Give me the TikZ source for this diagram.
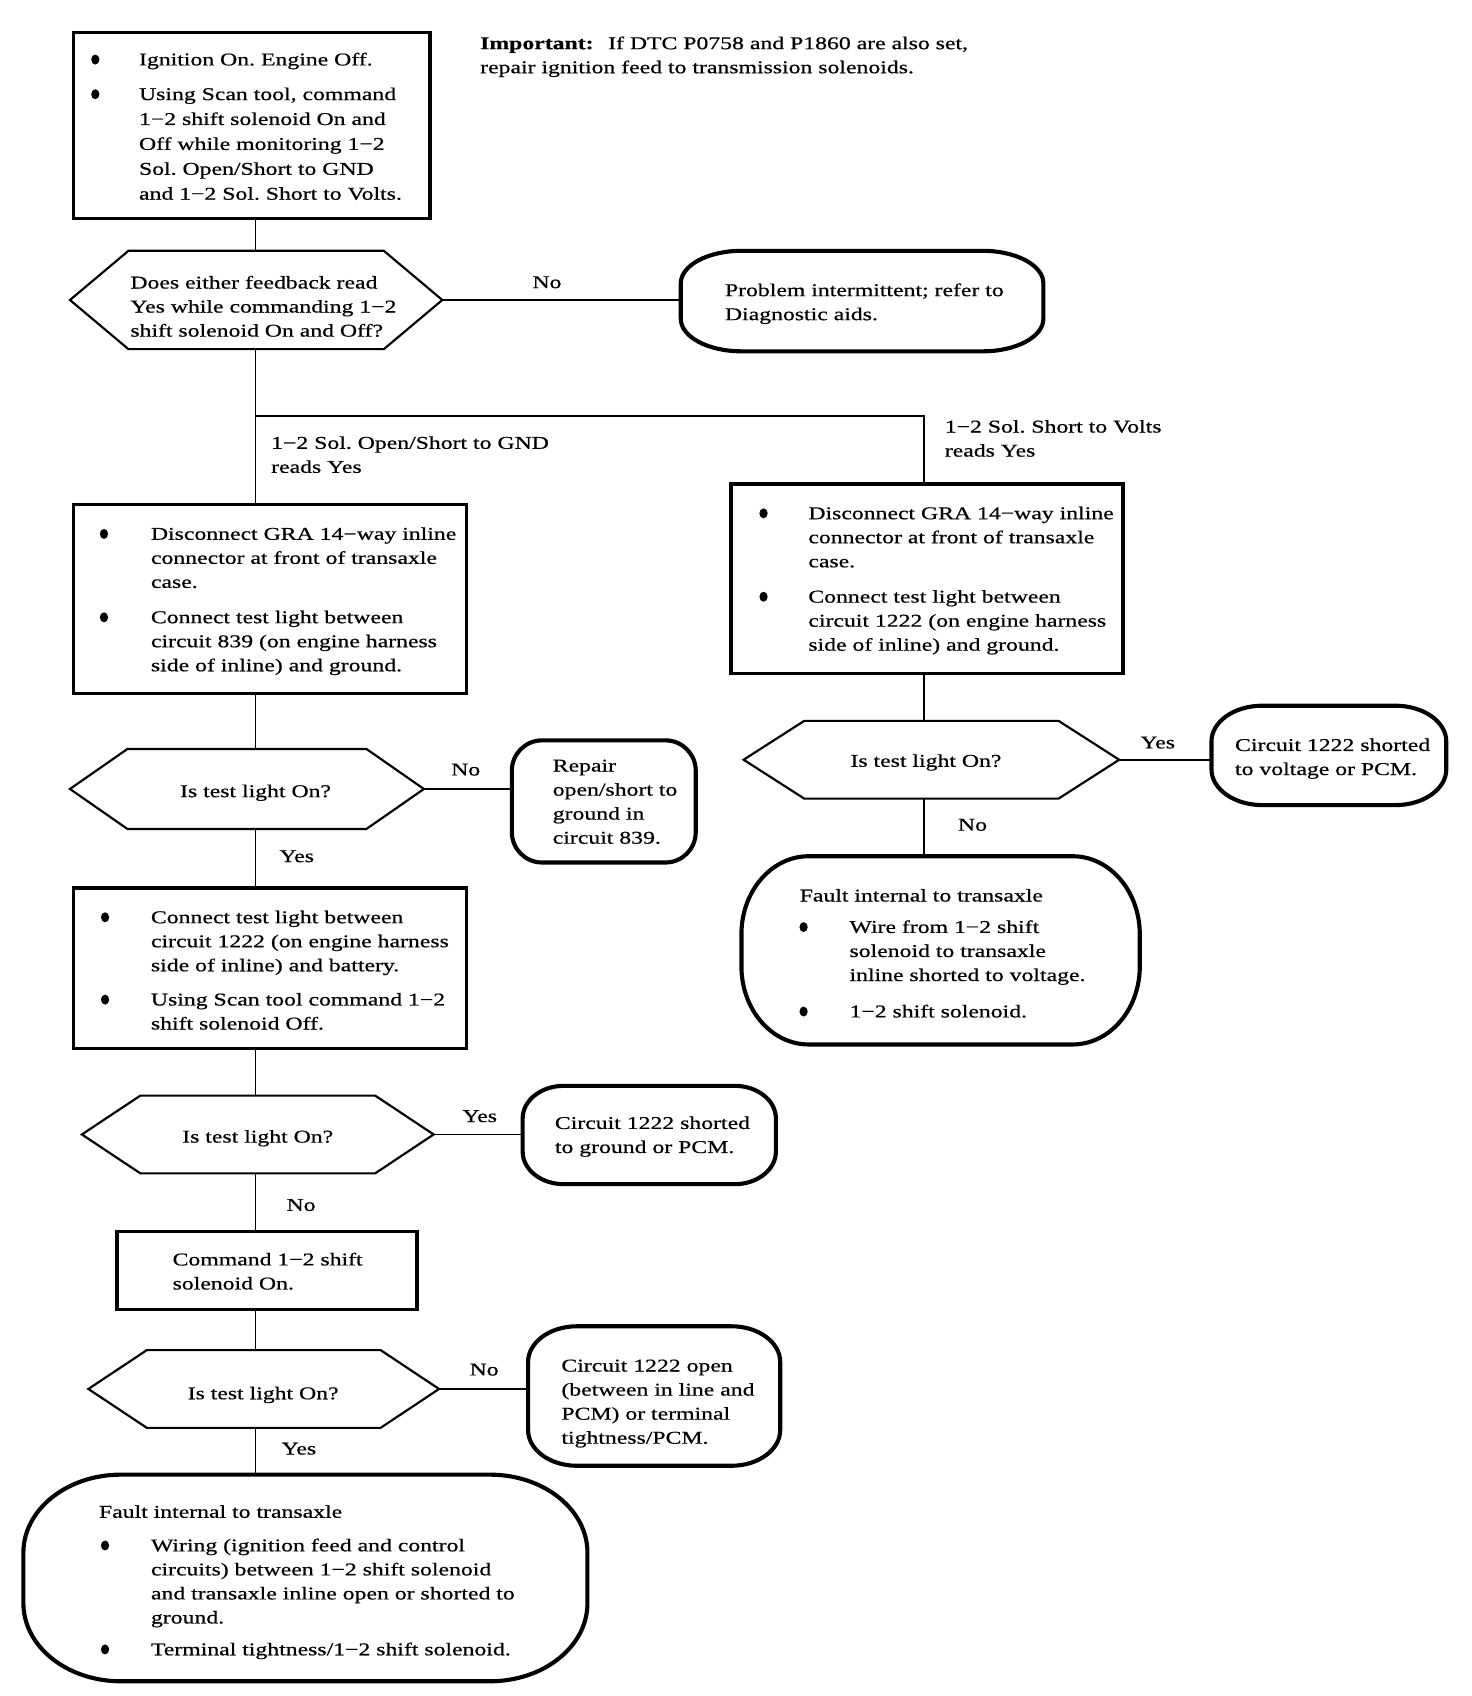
\documentclass[tikz,border=0pt]{standalone}
\usepackage{fontspec}
\setmainfont{Liberation Serif}[FakeStretch=1.32,FakeBold=0.6]
\usetikzlibrary{fit}
\newcommand{\myfs}{\fontsize{8.3pt}{11.1pt}\selectfont\frenchspacing}
\tikzset{
 boxst/.style={draw, line width=1.5pt, inner sep=0pt},
 hexst/.style={draw, line width=1pt, line join=miter},
 termst/.style={draw, line width=1.9pt},
 conn/.style={line width=0.8pt},
 txt/.style={anchor=north west, inner sep=0pt, align=left, font=\myfs},
 lab/.style={anchor=base, inner sep=0pt, font=\myfs},
}
\newcommand{\txnode}[4]{\node[txt] (#1) at (#2,#3-11) {\rule{0pt}{8pt}#4};}
\newcommand{\labnode}[4]{\node[lab] (#1) at (#2,#3+5) {#4};}
\newcommand{\bul}[2]{\fill (#1,#2) ellipse [x radius=1.9pt, y radius=2.3pt];}
\newcommand{\boxnode}[5]{\node[boxst, fit={(#2,#3)(#4,#5)}] (#1) {};}
\newcommand{\hexnode}[6]{%
  \node[fit={(#2,#3)(#4,#5)}, inner sep=0pt] (#1) {};
  \draw[hexst] (#1.west) -- ([xshift=#6]#1.north west) -- ([xshift=-#6]#1.north east) -- (#1.east) -- ([xshift=-#6]#1.south east) -- ([xshift=#6]#1.south west) -- cycle;}
\newcommand{\termnode}[7]{%
  \node[fit={(#2,#3)(#4,#5)}, inner sep=0pt] (#1) {};
  \draw[termst] ([xshift=#6]#1.north west) -- ([xshift=-#6]#1.north east)
    arc[start angle=90, end angle=0, x radius=#6, y radius=#7]
    -- ([yshift=#7]#1.south east)
    arc[start angle=0, end angle=-90, x radius=#6, y radius=#7]
    -- ([xshift=#6]#1.south west)
    arc[start angle=270, end angle=180, x radius=#6, y radius=#7]
    -- ([yshift=-#7]#1.north west)
    arc[start angle=180, end angle=90, x radius=#6, y radius=#7] -- cycle;}
\begin{document}
\begin{tikzpicture}[x=0.5pt,y=-0.5pt]
\useasboundingbox (0,0) rectangle (1359,1566);
\coordinate (sp) at (236,0);
\coordinate (br) at (236,384);
\coordinate (brr) at (853,384);

% Box A
\boxnode{A}{68}{30}{397}{202}
\bul{88}{55}\bul{88}{87}
\txnode{a1}{128}{55}{Ignition On. Engine Off.}
\txnode{a2}{128}{87}{Using Scan tool, command\\[0.4pt]1−2 shift solenoid On and\\[0.4pt]Off while monitoring 1−2\\[0.4pt]Sol. Open/Short to GND\\[0.4pt]and 1−2 Sol. Short to Volts.}

% Important
\txnode{imp}{443}{40}{\textbf{Important:}\hspace{4pt} If DTC P0758 and P1860 are also set,\\repair ignition feed to transmission solenoids.}

% D1
\hexnode{D1}{65}{232}{408}{322}{27pt}
\txnode{d1t}{120}{261}{Does either feedback read\\Yes while commanding 1−2\\shift solenoid On and Off?}

% T1
\termnode{T1}{629}{232}{963}{324}{28pt}{15pt}
\txnode{t1t}{669}{268}{Problem intermittent; refer to\\Diagnostic aids.}
\labnode{l1}{505}{261}{No}

% labels of branch
\txnode{lg}{250}{409}{1−2 Sol. Open/Short to GND\\reads Yes}
\txnode{lv}{872}{394}{1−2 Sol. Short to Volts\\reads Yes}

% Box B
\boxnode{B}{68}{466}{431}{640}
\bul{96}{493}\bul{96}{570}
\txnode{b1}{139}{493}{Disconnect GRA 14−way inline\\connector at front of transaxle\\case.}
\txnode{b2}{139}{570}{Connect test light between\\circuit 839 (on engine harness\\side of inline) and ground.}

% Box C
\boxnode{C}{675}{447}{1037}{622}
\bul{705}{474}\bul{705}{551}
\txnode{c1}{746}{474}{Disconnect GRA 14−way inline\\connector at front of transaxle\\case.}
\txnode{c2}{746}{551}{Connect test light between\\circuit 1222 (on engine harness\\side of inline) and ground.}

% D2
\hexnode{D2}{65}{692}{391}{765}{26.5pt}
\labnode{d2t}{236}{731}{Is test light On?}
\labnode{l2}{430}{711}{No}
\termnode{T2}{473}{684}{642}{796}{14pt}{14pt}
\txnode{t2t}{510}{707}{Repair\\open/short to\\ground in\\circuit 839.}
\labnode{l3}{274}{791}{Yes}

% D3
\hexnode{D3}{687}{666}{1033}{737}{28pt}
\labnode{d3t}{855}{703}{Is test light On?}
\labnode{l4}{1069}{686}{Yes}
\termnode{T3}{1119}{652}{1335}{743}{23.5pt}{16.5pt}
\txnode{t3t}{1140}{688}{Circuit 1222 shorted\\to voltage or PCM.}
\labnode{l5}{898}{762}{No}

% T4
\termnode{T4}{685}{791}{1052}{964}{31pt}{36pt}
\txnode{t4a}{738}{827}{Fault internal to transaxle}
\bul{742}{856}\bul{742}{934}
\txnode{t4b}{784}{856}{Wire from 1−2 shift\\solenoid to transaxle\\inline shorted to voltage.}
\txnode{t4c}{784}{934}{1−2 shift solenoid.}

% Box D
\boxnode{D}{68}{820}{431}{968}
\bul{97}{847}\bul{97}{923}
\txnode{dd1}{139}{847}{Connect test light between\\circuit 1222 (on engine harness\\side of inline) and battery.}
\txnode{dd2}{139}{923}{Using Scan tool command 1−2\\shift solenoid Off.}

% D4
\hexnode{D4}{76}{1012}{400}{1083}{27pt}
\labnode{d4t}{238}{1050}{Is test light On?}
\labnode{l6}{443}{1031}{Yes}
\termnode{T5}{483}{1003}{716}{1093}{19pt}{15pt}
\txnode{t5t}{512}{1037}{Circuit 1222 shorted\\to ground or PCM.}
\labnode{l7}{278}{1113}{No}

% Box E
\boxnode{E}{108}{1137}{385}{1209}
\txnode{e1}{159}{1163}{Command 1−2 shift\\solenoid On.}

% D5
\hexnode{D5}{82}{1247}{405}{1318}{27pt}
\labnode{d5t}{243}{1287}{Is test light On?}
\labnode{l8}{447}{1265}{No}
\termnode{T6}{488}{1225}{720}{1353}{22.5pt}{16.5pt}
\txnode{t6t}{518}{1261}{Circuit 1222 open\\(between in line and\\PCM) or terminal\\tightness/PCM.}
\labnode{l9}{276}{1338}{Yes}

% T7
\termnode{T7}{22}{1362}{542}{1552}{45pt}{36pt}
\txnode{t7a}{91}{1396}{Fault internal to transaxle}
\bul{97}{1427}\bul{97}{1523}
\txnode{t7b}{139}{1427}{Wiring (ignition feed and control\\circuits) between 1−2 shift solenoid\\and transaxle inline open or shorted to\\ground.}
\txnode{t7c}{139}{1523}{Terminal tightness/1−2 shift solenoid.}

% connectors
\draw[conn] (sp |- A.south) -- (sp |- D1.north);
\draw[conn] (D1.east) -- (D1.east -| T1.west);
\draw[conn] (sp |- D1.south) -- (sp |- B.north);
\draw[conn] (br) -- (brr) -- (brr |- C.north);
\draw[conn] (sp |- B.south) -- (sp |- D2.north);
\draw[conn] (D2.east) -- (D2.east -| T2.west);
\draw[conn] (sp |- D2.south) -- (sp |- D.north);
\draw[conn] (brr |- C.south) -- (brr |- D3.north);
\draw[conn] (D3.east) -- (D3.east -| T3.west);
\draw[conn] (brr |- D3.south) -- (brr |- T4.north);
\draw[conn] (sp |- D.south) -- (sp |- D4.north);
\draw[conn] (D4.east) -- (D4.east -| T5.west);
\draw[conn] (sp |- D4.south) -- (sp |- E.north);
\draw[conn] (sp |- E.south) -- (sp |- D5.north);
\draw[conn] (D5.east) -- (D5.east -| T6.west);
\draw[conn] (sp |- D5.south) -- (sp |- T7.north);
\end{tikzpicture}
\end{document}
